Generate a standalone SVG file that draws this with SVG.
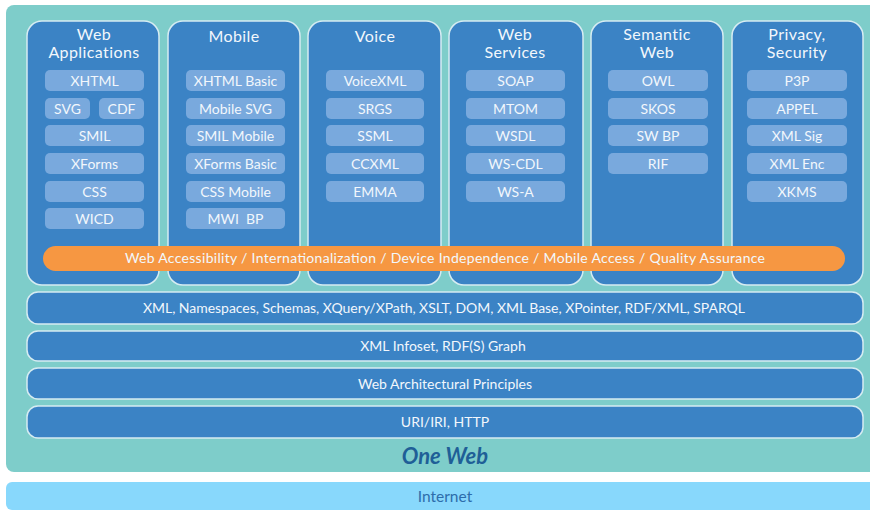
<svg xmlns="http://www.w3.org/2000/svg" width="870" height="511" viewBox="0 0 870 511">
<style>
.col{fill:#3b83c5;stroke:#d6ecf2;stroke-width:1.5}
.item{fill:#79a9dd}
.bar{fill:#3b83c5;stroke:#d6ecf2;stroke-width:1.5}
.t{font-family:Lato,"Open Sans","Liberation Sans",sans-serif;fill:#f2f7fc;text-anchor:middle}
.h{font-size:16px;letter-spacing:0.4px}
.i{font-size:14px}
.b{font-size:14px}
</style>
<rect x="0" y="0" width="870" height="511" fill="#ffffff"/>
<g id="one-web">
<rect x="6" y="5" width="880" height="467" rx="8" fill="#7ecdca"/>
<text x="445" y="464" style="font-family:Lato,'Liberation Sans',sans-serif;font-size:22px;font-weight:bold;font-style:italic;fill:#1f5f97;text-anchor:middle">One Web</text>
</g>
<g id="internet">
<rect x="6" y="482" width="880" height="28" rx="6" fill="#88d8fc"/>
<text x="445" y="502" class="t" style="fill:#2d6dab;font-size:15.5px">Internet</text>
</g>

<g id="col-webapps">
<rect class="col" x="27" y="21" width="132" height="264" rx="15"/>
<text class="t h" x="94" y="40">Web</text>
<text class="t h" x="94" y="58">Applications</text>
<rect class="item" x="45" y="70" width="99" height="21" rx="5"/><text class="t i" x="94.5" y="85.5">XHTML</text>
<rect class="item" x="45" y="98" width="45" height="21" rx="5"/><text class="t i" x="67.5" y="113.5">SVG</text>
<rect class="item" x="99" y="98" width="45" height="21" rx="5"/><text class="t i" x="121.5" y="113.5">CDF</text>
<rect class="item" x="45" y="125" width="99" height="21" rx="5"/><text class="t i" x="94.5" y="140.5">SMIL</text>
<rect class="item" x="45" y="153" width="99" height="21" rx="5"/><text class="t i" x="94.5" y="168.5">XForms</text>
<rect class="item" x="45" y="181" width="99" height="21" rx="5"/><text class="t i" x="94.5" y="196.5">CSS</text>
<rect class="item" x="45" y="208" width="99" height="21" rx="5"/><text class="t i" x="94.5" y="223.5">WICD</text>
</g>

<g id="col-mobile">
<rect class="col" x="168" y="21" width="132" height="264" rx="15"/>
<text class="t h" x="234" y="41.5">Mobile</text>
<rect class="item" x="186" y="70" width="99" height="21" rx="5"/><text class="t i" x="235.5" y="85.5">XHTML Basic</text>
<rect class="item" x="186" y="98" width="99" height="21" rx="5"/><text class="t i" x="235.5" y="113.5">Mobile SVG</text>
<rect class="item" x="186" y="125" width="99" height="21" rx="5"/><text class="t i" x="235.5" y="140.5">SMIL Mobile</text>
<rect class="item" x="186" y="153" width="99" height="21" rx="5"/><text class="t i" x="235.5" y="168.5">XForms Basic</text>
<rect class="item" x="186" y="181" width="99" height="21" rx="5"/><text class="t i" x="235.5" y="196.5">CSS Mobile</text>
<rect class="item" x="186" y="208" width="99" height="21" rx="5"/><text class="t i" x="235.5" y="223.5" xml:space="preserve">MWI  BP</text>
</g>

<g id="col-voice">
<rect class="col" x="308" y="21" width="133" height="264" rx="15"/>
<text class="t h" x="375" y="41.5">Voice</text>
<rect class="item" x="326" y="70" width="98" height="21" rx="5"/><text class="t i" x="375" y="85.5">VoiceXML</text>
<rect class="item" x="326" y="98" width="98" height="21" rx="5"/><text class="t i" x="375" y="113.5">SRGS</text>
<rect class="item" x="326" y="125" width="98" height="21" rx="5"/><text class="t i" x="375" y="140.5">SSML</text>
<rect class="item" x="326" y="153" width="98" height="21" rx="5"/><text class="t i" x="375" y="168.5">CCXML</text>
<rect class="item" x="326" y="181" width="98" height="21" rx="5"/><text class="t i" x="375" y="196.5">EMMA</text>
</g>

<g id="col-webservices">
<rect class="col" x="449" y="21" width="134" height="264" rx="15"/>
<text class="t h" x="515" y="40">Web</text>
<text class="t h" x="515" y="58">Services</text>
<rect class="item" x="466" y="70" width="99" height="21" rx="5"/><text class="t i" x="515.5" y="85.5">SOAP</text>
<rect class="item" x="466" y="98" width="99" height="21" rx="5"/><text class="t i" x="515.5" y="113.5">MTOM</text>
<rect class="item" x="466" y="125" width="99" height="21" rx="5"/><text class="t i" x="515.5" y="140.5">WSDL</text>
<rect class="item" x="466" y="153" width="99" height="21" rx="5"/><text class="t i" x="515.5" y="168.5">WS-CDL</text>
<rect class="item" x="466" y="181" width="99" height="21" rx="5"/><text class="t i" x="515.5" y="196.5">WS-A</text>
</g>

<g id="col-semanticweb">
<rect class="col" x="591" y="21" width="132" height="264" rx="15"/>
<text class="t h" x="657" y="40">Semantic</text>
<text class="t h" x="657" y="58">Web</text>
<rect class="item" x="608" y="70" width="100" height="21" rx="5"/><text class="t i" x="658" y="85.5">OWL</text>
<rect class="item" x="608" y="98" width="100" height="21" rx="5"/><text class="t i" x="658" y="113.5">SKOS</text>
<rect class="item" x="608" y="125" width="100" height="21" rx="5"/><text class="t i" x="658" y="140.5">SW BP</text>
<rect class="item" x="608" y="153" width="100" height="21" rx="5"/><text class="t i" x="658" y="168.5">RIF</text>
</g>

<g id="col-privacy">
<rect class="col" x="732" y="21" width="131" height="264" rx="15"/>
<text class="t h" x="797" y="40">Privacy,</text>
<text class="t h" x="797" y="58">Security</text>
<rect class="item" x="747" y="70" width="100" height="21" rx="5"/><text class="t i" x="797" y="85.5">P3P</text>
<rect class="item" x="747" y="98" width="100" height="21" rx="5"/><text class="t i" x="797" y="113.5">APPEL</text>
<rect class="item" x="747" y="125" width="100" height="21" rx="5"/><text class="t i" x="797" y="140.5">XML Sig</text>
<rect class="item" x="747" y="153" width="100" height="21" rx="5"/><text class="t i" x="797" y="168.5">XML Enc</text>
<rect class="item" x="747" y="181" width="100" height="21" rx="5"/><text class="t i" x="797" y="196.5">XKMS</text>
</g>

<g id="accessibility">
<rect x="43" y="246" width="802" height="25" rx="12.5" fill="#f69742"/>
<text class="t b" x="445" y="263" textLength="640" lengthAdjust="spacing">Web Accessibility / Internationalization / Device Independence / Mobile Access / Quality Assurance</text>
</g>

<g id="xml-layer">
<rect class="bar" x="27" y="292" width="836" height="32" rx="11"/>
<text class="t b" x="444" y="313" textLength="602" lengthAdjust="spacing">XML, Namespaces, Schemas, XQuery/XPath, XSLT, DOM, XML Base, XPointer, RDF/XML, SPARQL</text>
</g>
<g id="infoset-layer">
<rect class="bar" x="27" y="331" width="836" height="30" rx="11"/>
<text class="t b" x="443" y="351">XML Infoset, RDF(S) Graph</text>
</g>
<g id="webarch-layer">
<rect class="bar" x="27" y="368" width="836" height="31" rx="11"/>
<text class="t b" x="445" y="388.5">Web Architectural Principles</text>
</g>
<g id="uri-layer">
<rect class="bar" x="27" y="406" width="836" height="32" rx="11"/>
<text class="t b" x="445" y="427">URI/IRI, HTTP</text>
</g>
<g id="connectors"/>
</svg>
